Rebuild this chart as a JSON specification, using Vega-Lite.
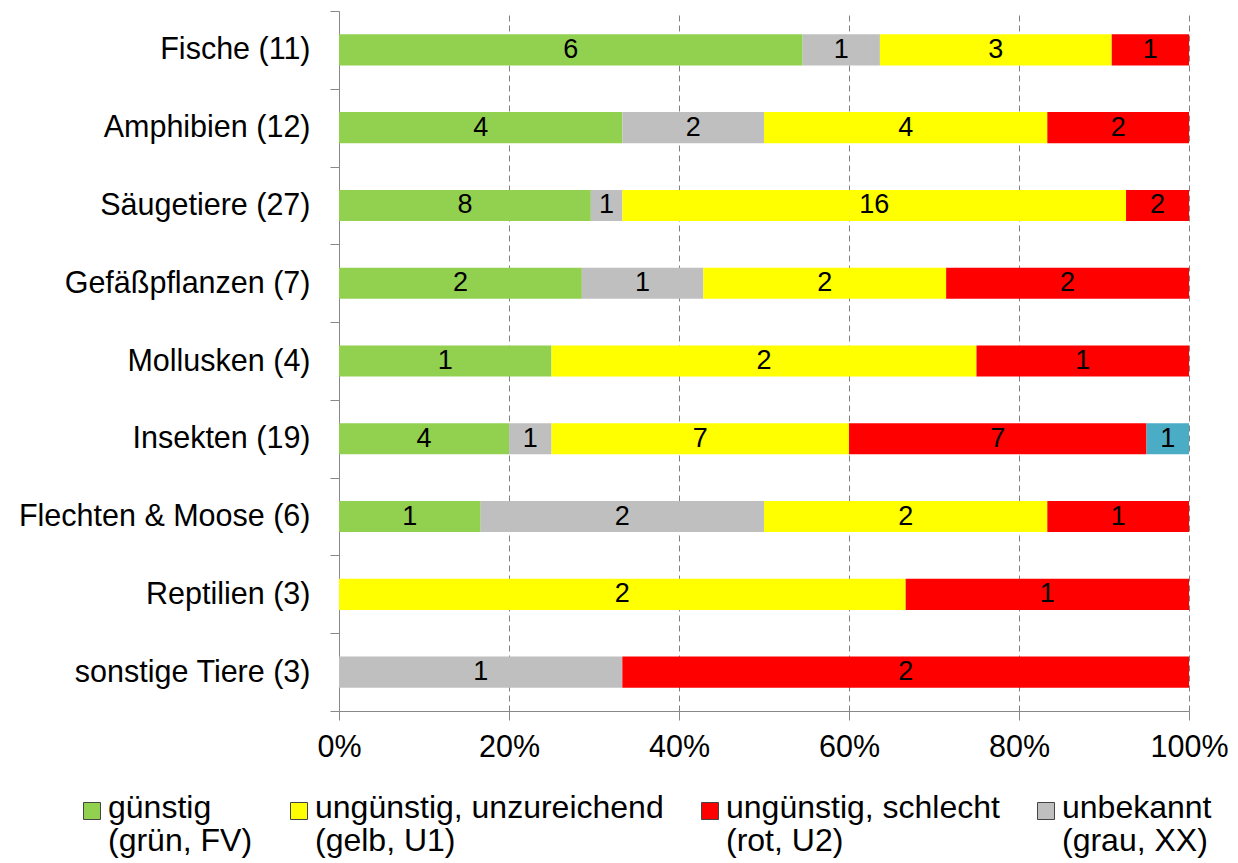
{
  "$schema": "https://vega.github.io/schema/vega-lite/v6.json",
  "width": 850,
  "height": 700,
  "autosize": {"type": "none"},
  "padding": {"left": 339, "top": 11, "right": 49, "bottom": 152},
  "background": "white",
  "config": {"view": {"stroke": null}, "font": "Liberation Sans"},
  "data": {
    "values": [
      {"category": "Fische (11)", "status": "FV", "ord": 1, "count": 6},
      {"category": "Fische (11)", "status": "XX", "ord": 2, "count": 1},
      {"category": "Fische (11)", "status": "U1", "ord": 3, "count": 3},
      {"category": "Fische (11)", "status": "U2", "ord": 4, "count": 1},
      {"category": "Amphibien (12)", "status": "FV", "ord": 1, "count": 4},
      {"category": "Amphibien (12)", "status": "XX", "ord": 2, "count": 2},
      {"category": "Amphibien (12)", "status": "U1", "ord": 3, "count": 4},
      {"category": "Amphibien (12)", "status": "U2", "ord": 4, "count": 2},
      {"category": "Säugetiere (27)", "status": "FV", "ord": 1, "count": 8},
      {"category": "Säugetiere (27)", "status": "XX", "ord": 2, "count": 1},
      {"category": "Säugetiere (27)", "status": "U1", "ord": 3, "count": 16},
      {"category": "Säugetiere (27)", "status": "U2", "ord": 4, "count": 2},
      {"category": "Gefäßpflanzen (7)", "status": "FV", "ord": 1, "count": 2},
      {"category": "Gefäßpflanzen (7)", "status": "XX", "ord": 2, "count": 1},
      {"category": "Gefäßpflanzen (7)", "status": "U1", "ord": 3, "count": 2},
      {"category": "Gefäßpflanzen (7)", "status": "U2", "ord": 4, "count": 2},
      {"category": "Mollusken (4)", "status": "FV", "ord": 1, "count": 1},
      {"category": "Mollusken (4)", "status": "U1", "ord": 3, "count": 2},
      {"category": "Mollusken (4)", "status": "U2", "ord": 4, "count": 1},
      {"category": "Insekten (19)", "status": "FV", "ord": 1, "count": 4},
      {"category": "Insekten (19)", "status": "XX", "ord": 2, "count": 1},
      {"category": "Insekten (19)", "status": "U1", "ord": 3, "count": 7},
      {"category": "Insekten (19)", "status": "U2", "ord": 4, "count": 7},
      {"category": "Insekten (19)", "status": "NA", "ord": 5, "count": 1},
      {"category": "Flechten & Moose (6)", "status": "FV", "ord": 1, "count": 1},
      {"category": "Flechten & Moose (6)", "status": "XX", "ord": 2, "count": 2},
      {"category": "Flechten & Moose (6)", "status": "U1", "ord": 3, "count": 2},
      {"category": "Flechten & Moose (6)", "status": "U2", "ord": 4, "count": 1},
      {"category": "Reptilien (3)", "status": "U1", "ord": 3, "count": 2},
      {"category": "Reptilien (3)", "status": "U2", "ord": 4, "count": 1},
      {"category": "sonstige Tiere (3)", "status": "XX", "ord": 2, "count": 1},
      {"category": "sonstige Tiere (3)", "status": "U2", "ord": 4, "count": 2}
    ]
  },
  "transform": [
    {"stack": "count", "groupby": ["category"], "sort": [{"field": "ord"}], "offset": "normalize", "as": ["x0", "x1"]},
    {"calculate": "(datum.x0 + datum.x1) / 2", "as": "xm"}
  ],
  "encoding": {
    "y": {
      "field": "category",
      "type": "nominal",
      "sort": ["Fische (11)", "Amphibien (12)", "Säugetiere (27)", "Gefäßpflanzen (7)", "Mollusken (4)", "Insekten (19)", "Flechten & Moose (6)", "Reptilien (3)", "sonstige Tiere (3)"],
      "scale": {"paddingInner": 0, "paddingOuter": 0},
      "axis": {
        "title": null,
        "domainColor": "#888888",
        "tickColor": "#888888",
        "tickSize": 9,
        "tickBand": "extent",
        "labelFontSize": 30.5,
        "labelColor": "black",
        "labelPadding": 20,
        "labelLimit": 400,
        "grid": false
      }
    }
  },
  "layer": [
    {
      "mark": {"type": "bar", "height": {"band": 0.4}},
      "encoding": {
        "x": {
          "field": "x0",
          "type": "quantitative",
          "scale": {"domain": [0, 1], "nice": false},
          "axis": {
            "title": null,
            "format": ".0%",
            "values": [0, 0.2, 0.4, 0.6, 0.8, 1],
            "grid": true,
            "gridDash": [6, 4],
            "gridColor": "#808080",
            "domainColor": "#888888",
            "tickColor": "#888888",
            "tickSize": 9,
            "labelFontSize": 30.5,
            "labelColor": "black",
            "labelPadding": 12,
            "labelFlush": false
          }
        },
        "x2": {"field": "x1"},
        "color": {
          "field": "status",
          "type": "nominal",
          "scale": {"domain": ["FV", "U1", "U2", "XX", "NA"], "range": ["#92D050", "#FFFF00", "#FF0000", "#BFBFBF", "#4BACC6"]},
          "legend": {
            "values": ["FV", "U1", "U2", "XX"],
            "orient": "none",
            "legendX": -263,
            "legendY": 784,
            "direction": "horizontal",
            "title": null,
            "labelExpr": "datum.value == 'FV' ? ['günstig', '(grün, FV)'] : datum.value == 'U1' ? ['ungünstig, unzureichend', '(gelb, U1)'] : datum.value == 'U2' ? ['ungünstig, schlecht', '(rot, U2)'] : ['unbekannt', '(grau, XX)']",
            "labelFontSize": 32,
            "labelColor": "black",
            "labelLimit": 600,
            "labelOffset": 0,
            "labelBaseline": "top",
            "symbolType": "square",
            "symbolSize": 289,
            "symbolStrokeColor": "#444444",
            "symbolStrokeWidth": 1,
            "symbolOpacity": 1,
            "columnPadding": 30,
            "padding": 0,
            "encode": {"labels": {"update": {"lineHeight": {"value": 33}, "dy": {"value": -18}}}}
          }
        }
      }
    },
    {
      "mark": {"type": "text", "fontSize": 27, "color": "black"},
      "encoding": {
        "x": {"field": "xm", "type": "quantitative"},
        "text": {"field": "count", "type": "quantitative"}
      }
    }
  ]
}
